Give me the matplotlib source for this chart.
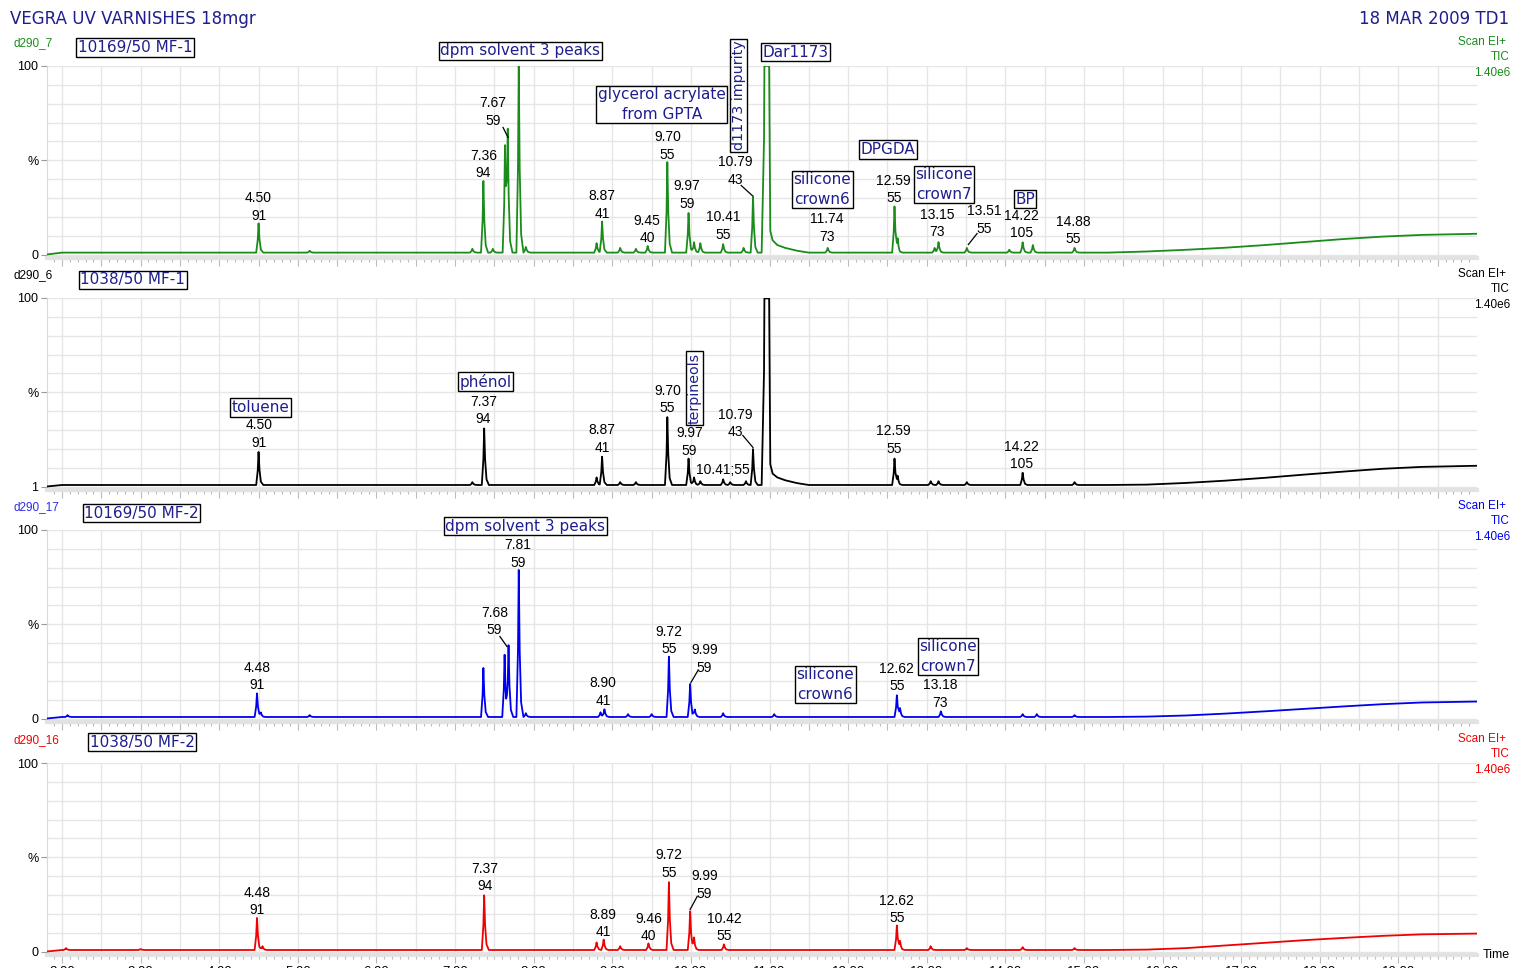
import numpy as np
import matplotlib.pyplot as plt

W, H = 1517, 968

# ---- data (time in min, height in % above baseline) ----
# d290_7  10169/50 MF-1 (green)
p1_t = [4.50, 5.15, 7.22, 7.36, 7.48, 7.635, 7.67, 7.81, 7.90, 8.80, 8.87, 9.10, 9.30,
        9.45, 9.70, 9.97, 10.04, 10.12, 10.41, 10.67, 10.79, 11.74, 12.59, 12.63, 13.10,
        13.15, 13.51, 14.05, 14.22, 14.35, 14.88]
p1_h = [15.5, 1, 2, 38, 2, 57, 61, 99, 3, 5, 16.5, 2.5, 2, 3.5, 48, 21, 5.5, 5, 4.5, 2.5,
        30, 2.5, 24.5, 6, 2.5, 5.5, 2.5, 1.5, 5.5, 4, 2.5]
b1_t = [1.805, 2.0, 15.3, 15.8, 16.3, 16.8, 17.3, 17.8, 18.3, 18.8, 19.3, 20.0]
b1_y = [0, 1, 1, 1.6, 2.5, 3.6, 5.0, 6.6, 8.2, 9.5, 10.4, 11]
sat1_t = [10.90, 10.93, 10.935, 10.995, 11.01, 11.04, 11.10, 11.2, 11.35, 11.5]
sat1_y = [0, 60, 99, 99, 11.5, 6.5, 4, 2.5, 1, 0]

# d290_6  1038/50 MF-1 (black)
p2_t = [4.50, 7.22, 7.37, 8.80, 8.87, 9.10, 9.30, 9.70, 9.97, 10.04, 10.12, 10.41, 10.50,
        10.70, 10.79, 12.59, 12.63, 13.05, 13.15, 13.51, 14.22, 14.88]
p2_h = [17.5, 1.5, 30, 4, 15, 1.5, 1.5, 36, 14, 4, 2, 3, 1.5, 2, 19, 14, 4, 2, 2, 1.5, 6.5, 1.5]
b2_t = [1.805, 2.0, 15.3, 15.8, 16.3, 16.8, 17.3, 17.8, 18.3, 18.8, 19.3, 20.0]
b2_y = [0, 0.8, 0.8, 1.0, 1.9, 3.1, 4.6, 6.3, 7.9, 9.4, 10.4, 11]
sat2_t = [10.90, 10.93, 10.935, 10.995, 11.01, 11.04, 11.10, 11.2, 11.35, 11.5]
sat2_y = [0, 60, 99, 99, 11, 6, 4, 2.5, 1, 0]

# d290_17  10169/50 MF-2 (blue)
p3_t = [2.07, 4.48, 4.53, 5.15, 7.36, 7.63, 7.68, 7.81, 7.90, 8.85, 8.90, 9.20, 9.50,
        9.72, 9.99, 10.05, 10.41, 11.06, 12.62, 12.66, 13.18, 14.22, 14.40, 14.88]
p3_h = [1, 12.5, 2, 1, 26, 33, 37, 78, 2, 2.5, 4, 1.5, 1.5, 32, 17.5, 4, 2, 1.5, 11.5,
        4, 3, 1.5, 1.5, 1]
b3_t = [1.805, 2.0, 15.3, 15.8, 16.3, 16.8, 17.3, 17.8, 18.3, 18.8, 19.3, 20.0]
b3_y = [0, 0.8, 0.8, 1.0, 1.6, 2.6, 3.8, 5.1, 6.4, 7.6, 8.5, 9]

# d290_16  1038/50 MF-2 (red)
p4_t = [2.05, 3.00, 4.48, 4.55, 7.37, 8.80, 8.89, 9.10, 9.46, 9.72, 9.99, 10.04, 10.42,
        12.62, 12.66, 13.05, 13.51, 14.22, 14.88]
p4_h = [1, 0.5, 17, 2, 29, 4, 5.5, 2, 3.5, 36, 20.5, 6, 3, 13, 4, 2, 1, 1.5, 1]
b4_t = [1.805, 2.0, 15.3, 15.8, 16.3, 16.8, 17.3, 17.8, 18.3, 18.8, 19.3, 20.0]
b4_y = [0, 0.8, 0.8, 1.0, 1.8, 3.2, 4.6, 6.0, 7.2, 8.3, 9.1, 9.5]

# peak labels (text, time, % level of label centre)
lab1 = [("4.50\n91", 4.50, 25.2), ("7.36\n94", 7.36, 47.7), ("7.67\n59", 7.48, 75.6),
        ("8.87\n41", 8.87, 26.3), ("9.45\n40", 9.44, 13.3), ("9.70\n55", 9.70, 57.6),
        ("9.97\n59", 9.95, 31.6), ("10.41\n55", 10.41, 15.1), ("10.79\n43", 10.56, 44.3),
        ("11.74\n73", 11.73, 14.1), ("12.59\n55", 12.58, 34.5), ("13.15\n73", 13.13, 16.4),
        ("13.51\n55", 13.73, 18.3), ("14.22\n105", 14.21, 15.9), ("14.88\n55", 14.86, 12.7)]
lab2 = [("4.50\n91", 4.51, 27.9), ("7.37\n94", 7.36, 40.3), ("8.87\n41", 8.87, 25.2),
        ("9.70\n55", 9.70, 46.2), ("9.97\n59", 9.98, 23.6), ("10.41;55", 10.41, 9.0),
        ("10.79\n43", 10.56, 33.4), ("12.59\n55", 12.58, 24.7), ("14.22\n105", 14.21, 16.4)]
lab3 = [("7.81\n59", 7.80, 87.3), ("7.68\n59", 7.50, 51.5), ("4.48\n91", 4.48, 22.3),
        ("8.90\n41", 8.88, 14.1), ("9.72\n55", 9.72, 41.4), ("9.99\n59", 10.17, 31.6),
        ("12.62\n55", 12.62, 21.8), ("13.18\n73", 13.17, 13.0)]
lab4 = [("4.48\n91", 4.48, 26.5), ("7.37\n94", 7.38, 39.3), ("8.89\n41", 8.88, 14.9),
        ("9.46\n40", 9.46, 12.7), ("9.72\n55", 9.72, 46.4), ("9.99\n59", 10.17, 35.3),
        ("10.42\n55", 10.42, 12.7), ("12.62\n55", 12.62, 22.3)]

# leader lines from label to peak
lead1 = [(7.61, 67.4, 7.674, 62.1), (10.64, 36.6, 10.78, 31.3), (13.64, 11.1, 13.53, 5.3)]
lead2 = [(10.66, 27.1, 10.79, 20.7)]
lead3 = [(7.57, 43.5, 7.66, 38.2), (10.09, 25.5, 10.00, 19.1)]
lead4 = [(10.08, 29.2, 9.99, 22.3)]

# boxed compound names (text, time, %, rotation)
box1 = [("10169/50 MF-1", 2.93, 109.8, 0), ("dpm solvent 3 peaks", 7.83, 108.2, 0),
        ("glycerol acrylate\nfrom GPTA", 9.63, 79.6, 0), ("d1173 impurity", 10.61, 84.4, 90),
        ("Dar1173", 11.33, 107.2, 0), ("DPGDA", 12.51, 55.7, 0),
        ("silicone\ncrown6", 11.67, 34.5, 0), ("silicone\ncrown7", 13.22, 37.1, 0),
        ("BP", 14.25, 29.2, 0)]
box2 = [("1038/50 MF-1", 2.90, 109.7, 0), ("toluene", 4.53, 41.9, 0),
        ("phénol", 7.39, 55.7, 0), ("terpineols", 10.05, 52.0, 90)]
box3 = [("10169/50 MF-2", 3.01, 108.8, 0), ("dpm solvent 3 peaks", 7.89, 101.9, 0),
        ("silicone\ncrown6", 11.71, 18.0, 0), ("silicone\ncrown7", 13.27, 32.9, 0)]
box4 = [("1038/50 MF-2", 3.02, 110.9, 0)]

names = ["d290_7", "d290_6", "d290_17", "d290_16"]
colors = ["#1b8c1b", "black", "#0000f0", "#f00000"]
bottom_labels = ["0", "1", "0", "0"]
xtick_labels = ["%d.00" % v for v in range(2, 20)]

PEAK_DT = [-0.03, -0.01, 0.0, 0.012, 0.03, 0.06]
PEAK_F = [0, 0.45, 1, 0.45, 0.1, 0]


def build_trace(pt, ph, bt, by, st=None, sy=None):
    parts = [np.array(bt)] + [t + np.array(PEAK_DT) for t in pt]
    if st is not None:
        parts.append(np.array(st))
    x = np.unique(np.concatenate(parts))
    x = x[(x >= bt[0]) & (x <= bt[-1])]
    y = np.interp(x, bt, by)
    for t, h in zip(pt, ph):
        y = y + h * np.interp(x - t, PEAK_DT, PEAK_F, left=0, right=0)
    if st is not None:
        y = y + np.interp(x, st, sy, left=0, right=0)
    return x, np.minimum(y, 100)


traces = [build_trace(p1_t, p1_h, b1_t, b1_y, sat1_t, sat1_y),
          build_trace(p2_t, p2_h, b2_t, b2_y, sat2_t, sat2_y),
          build_trace(p3_t, p3_h, b3_t, b3_y),
          build_trace(p4_t, p4_h, b4_t, b4_y)]
labels = [lab1, lab2, lab3, lab4]
leaders = [lead1, lead2, lead3, lead4]
boxes = [box1, box2, box3, box4]

NAVY = "#1e1e8e"
ARIAL = "Liberation Sans"
VERD = "DejaVu Sans"

fig = plt.figure(figsize=(W / 100, H / 100), dpi=100)

tops = [66, 298, 530, 763]
pxh = 102 * 1.885
left_px, right_px = 46.7, 1477

for i in range(4):
    top = tops[i]
    ax = fig.add_axes([left_px / W, 1 - (top + pxh) / H, (right_px - left_px) / W, pxh / H])
    x, y = traces[i]
    ax.plot(x, y, color=colors[i], lw=1.3, zorder=3)
    ax.set_xlim(1.805, 20.0)
    ax.set_ylim(-2, 100)

    ax.set_yticks([0, 50, 100])
    ax.set_yticks(np.arange(10, 100, 10), minor=True)
    ax.set_yticklabels([bottom_labels[i], "%", "100"], fontfamily=ARIAL, fontsize=9)
    ax.grid(True, which="both", axis="y", color="#e6e6e6", lw=1)
    for xv in np.arange(2.0, 20.0, 0.5):
        ax.axvline(xv, color="#e6e6e6", lw=1, zorder=0)
    ax.tick_params(axis="y", which="major", length=4, width=0.8, color="#999999", pad=2)
    ax.tick_params(axis="y", which="minor", length=0)
    ax.set_xticks(np.arange(1.9, 20.0, 0.1), minor=True)
    if i < 3:
        ax.set_xticks(np.arange(2.0, 20.0, 0.5))
        ax.set_xticklabels([])
    else:
        ax.set_xticks(np.arange(2.0, 20.0, 1.0))
        ax.set_xticklabels(xtick_labels, fontfamily=ARIAL, fontsize=9.5)
    ax.tick_params(axis="x", which="major", length=6, width=0.8, color="#bbbbbb", pad=2)
    ax.tick_params(axis="x", which="minor", length=3, width=0.8, color="#bbbbbb")
    for s in ["top", "right"]:
        ax.spines[s].set_visible(False)
    ax.spines["left"].set_color("#d9d9d9")
    ax.spines["bottom"].set_color("#e2e2e2")
    ax.spines["bottom"].set_linewidth(3)

    for txt, tx, ty in labels[i]:
        ax.text(tx, ty, txt, ha="center", va="center", fontfamily=ARIAL, fontsize=10,
                linespacing=1.3, zorder=5)
    for x1, y1, x2, y2 in leaders[i]:
        ax.plot([x1, x2], [y1, y2], color="black", lw=0.9, zorder=5)
    for txt, tx, ty, rot in boxes[i]:
        ax.text(tx, ty, txt, ha="center", va="center", rotation=rot, fontfamily=VERD,
                fontsize=10.3 if rot else 11, color=NAVY, linespacing=1.4,
                multialignment="center",
                bbox=dict(boxstyle="square,pad=0.1", fc="white", ec="black", lw=1),
                zorder=6, clip_on=False)

    # side labels
    fig.text(14 / W, 1 - (top - 23) / H, names[i], color=colors[i] if i != 2 else "#2a2aee",
             fontfamily=ARIAL, fontsize=8.5, ha="left", va="center")
    fig.text(1506 / W, 1 - (top - 24) / H, "Scan EI+", color=colors[i], fontfamily=ARIAL,
             fontsize=8.5, ha="right", va="center")
    fig.text(1510 / W, 1 - (top - 9) / H, "TIC", color=colors[i], fontfamily=ARIAL,
             fontsize=8.5, ha="right", va="center")
    fig.text(1510 / W, 1 - (top + 7) / H, "1.40e6", color=colors[i], fontfamily=ARIAL,
             fontsize=8.5, ha="right", va="center")

fig.text(10 / W, 1 - 19 / H, "VEGRA UV VARNISHES 18mgr", color=NAVY, fontfamily=VERD,
         fontsize=12, ha="left", va="center")
fig.text(1509 / W, 1 - 19 / H, "18 MAR 2009 TD1", color=NAVY, fontfamily=VERD,
         fontsize=12, ha="right", va="center")
fig.text(1496 / W, 1 - 955 / H, "Time", fontfamily=ARIAL, fontsize=9, ha="center",
         va="center")

fig.savefig("out.png", dpi=100)
